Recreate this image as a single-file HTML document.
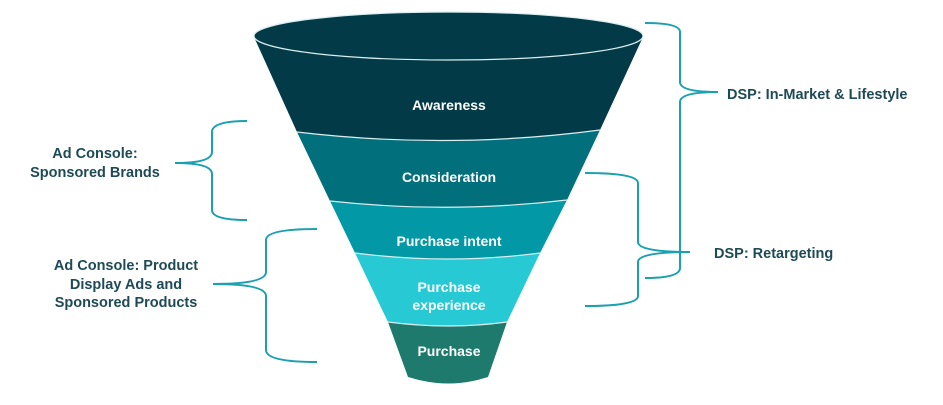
<!DOCTYPE html>
<html><head><meta charset="utf-8"><style>
html,body{margin:0;padding:0;background:#fff;}
svg{display:block;}
text{font-family:"Liberation Sans",sans-serif;font-weight:bold;}
</style></head><body>
<svg width="943" height="405" viewBox="0 0 943 405" xmlns="http://www.w3.org/2000/svg">
<!-- funnel segments -->
<path d="M254,37 L297,132 Q449,150 600,130 L643,37 Z" fill="#033a47"/>
<path d="M297,132 Q449,150 600,130 L567,200 Q449,214 330,201 Z" fill="#02707c"/>
<path d="M330,201 Q449,214 567,200 L540,253 Q449,265 355,253 Z" fill="#0398a6"/>
<path d="M355,253 Q449,265 540,253 L507,322 Q449,330 388,322 Z" fill="#27c9d4"/>
<path d="M388,322 Q449,330 507,322 L488,377 Q449,390 408,377 Z" fill="#1e7a6c"/>
<!-- boundaries -->
<g fill="none" stroke="#d8eef0" stroke-width="1.2">
<path d="M297,132 Q449,150 600,130"/>
<path d="M330,201 Q449,214 567,200"/>
<path d="M355,253 Q449,265 540,253"/>
<path d="M388,322 Q449,330 507,322"/>
</g>
<ellipse cx="448.5" cy="36" rx="194.5" ry="24" fill="#033a47" stroke="#d8eef0" stroke-width="1.2"/>
<!-- funnel labels -->
<g fill="#fff" font-size="14" text-anchor="middle">
<text x="449" y="110">Awareness</text>
<text x="449" y="182">Consideration</text>
<text x="449" y="246">Purchase intent</text>
<text x="449" y="292">Purchase</text>
<text x="449" y="310">experience</text>
<text x="449" y="356">Purchase</text>
</g>
<!-- brackets -->
<g fill="none" stroke="#1aa0b0" stroke-width="2">
<path d="M247,121 Q212,121 212,132 L212,152 Q212,163 175,163 Q212,163 212,174 L212,210 Q212,220 247,220"/>
<path d="M317,229 Q266,229 266,240 L266,272 Q266,284 213,284 Q266,284 266,296 L266,350 Q266,362 317,362"/>
<path d="M645,23 Q680,23 680,32 L680,82 Q680,92 718,92 Q680,92 680,102 L680,268 Q680,278 645,278"/>
<path d="M585,173 Q638,173 638,183 L638,242 Q638,252 690,252 Q638,252 638,262 L638,296 Q638,306 585,306"/>
</g>
<!-- side labels -->
<g fill="#1d4a56" font-size="14.5">
<text x="95" y="158" text-anchor="middle">Ad Console:</text>
<text x="95" y="177" text-anchor="middle">Sponsored Brands</text>
<text x="126" y="270" text-anchor="middle">Ad Console: Product</text>
<text x="126" y="289" text-anchor="middle">Display Ads and</text>
<text x="126" y="307" text-anchor="middle">Sponsored Products</text>
<text x="727" y="99">DSP: In-Market &amp; Lifestyle</text>
<text x="714" y="258">DSP: Retargeting</text>
</g>
</svg>
</body></html>
